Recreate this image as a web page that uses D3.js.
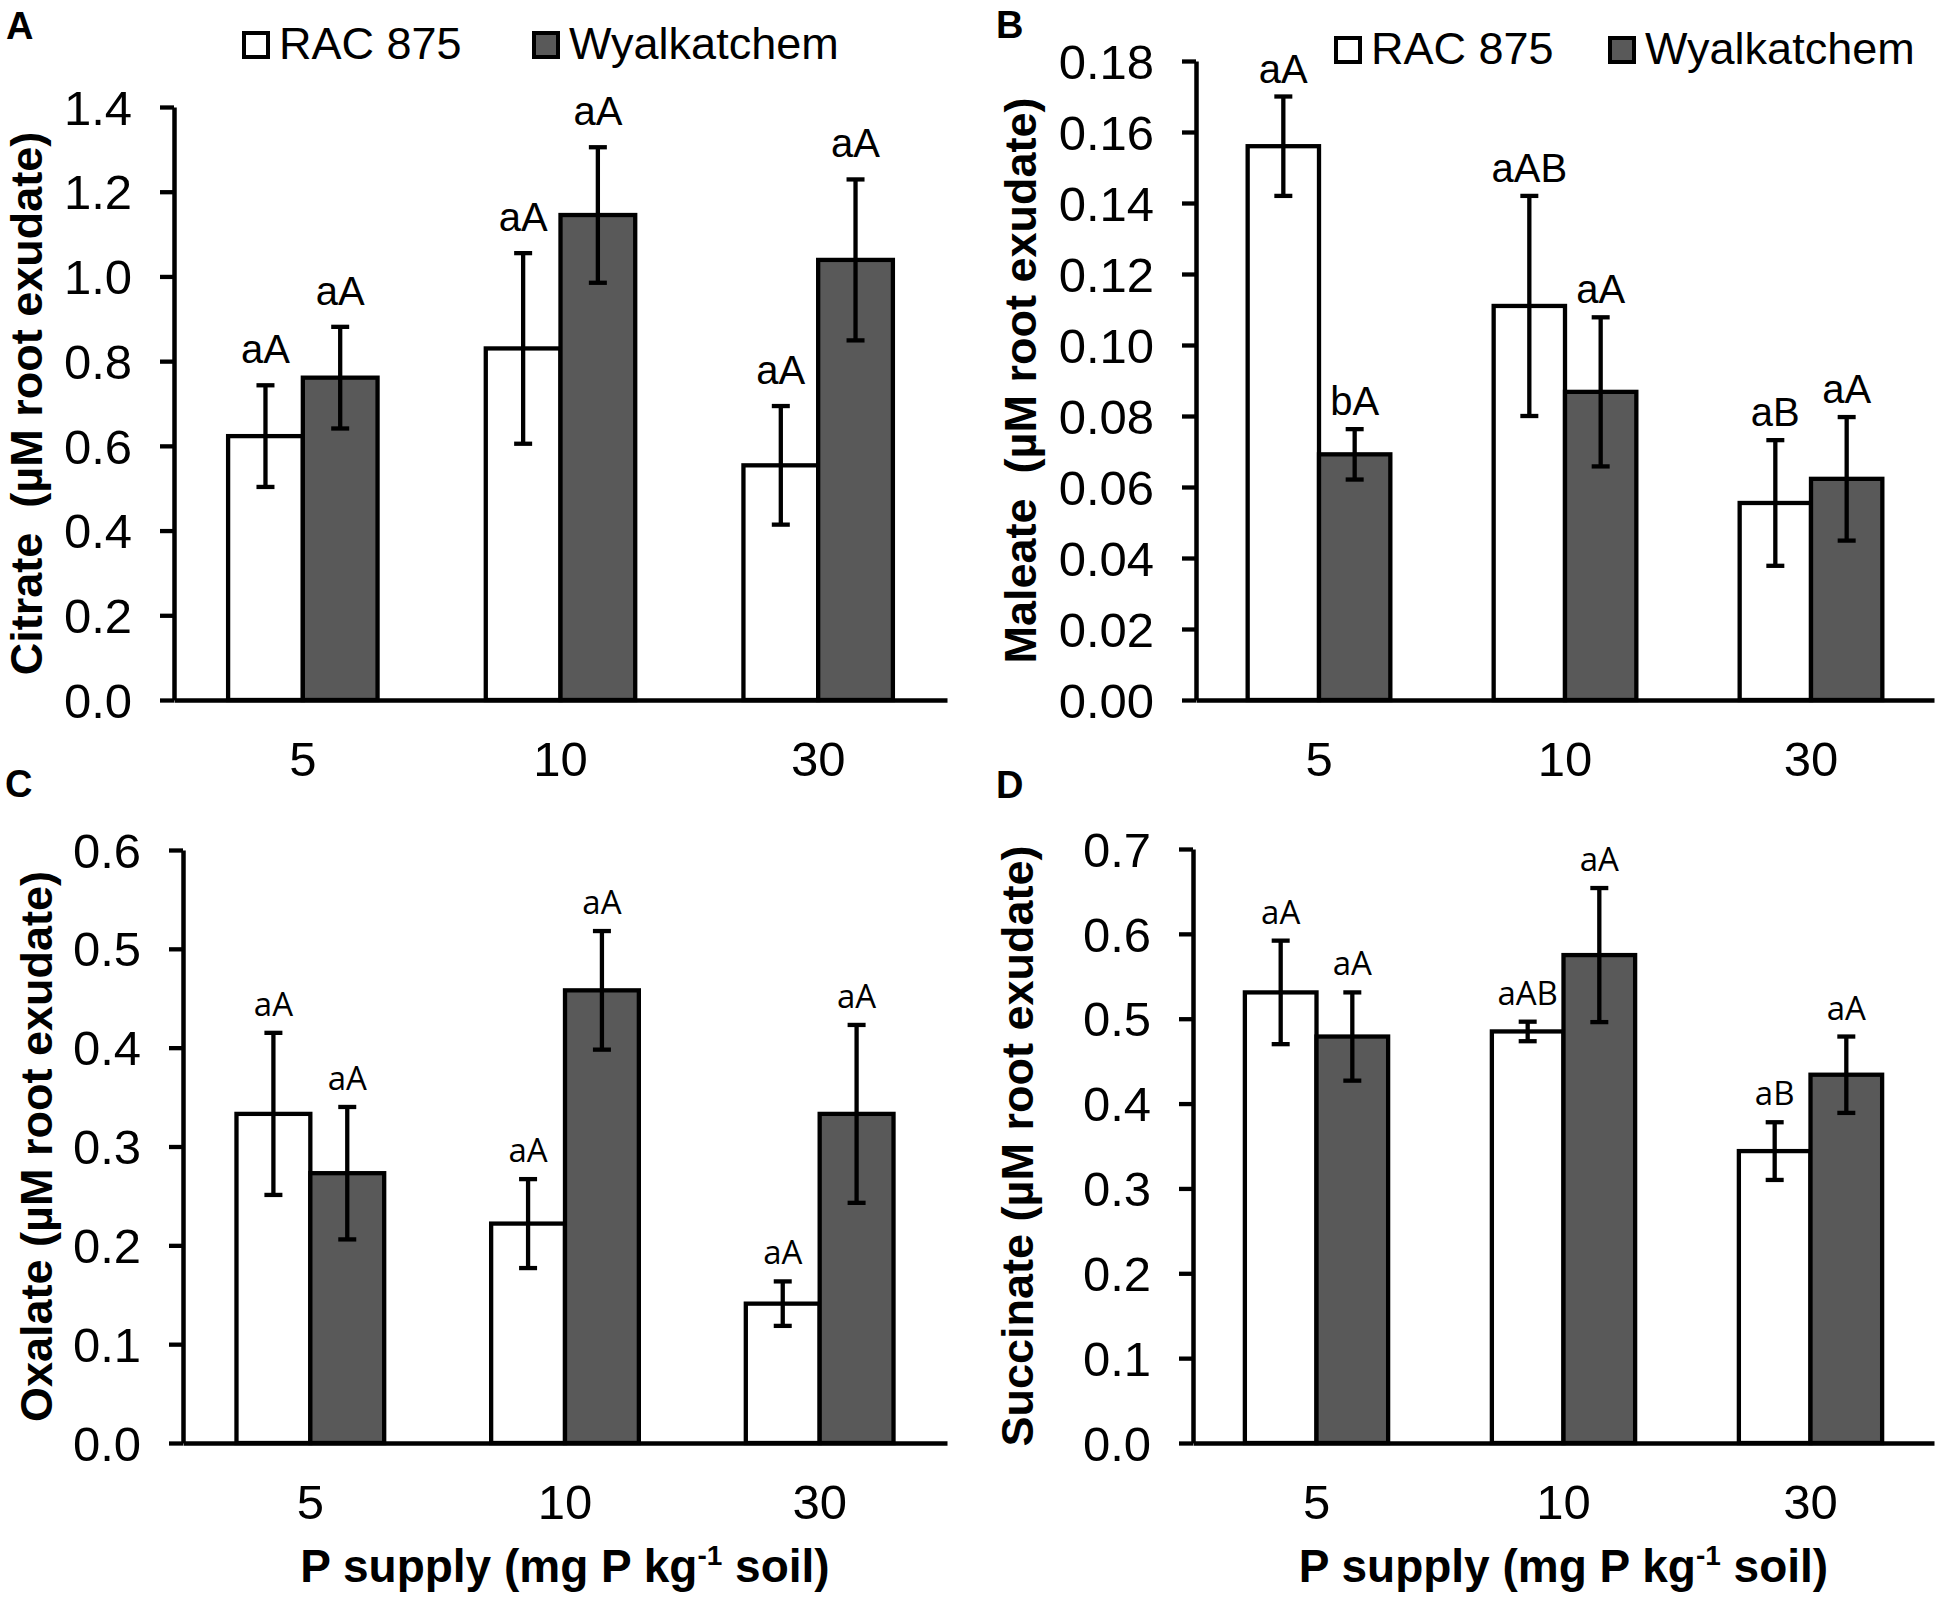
<!DOCTYPE html>
<html>
<head>
<meta charset="utf-8">
<script src="https://cdn.jsdelivr.net/npm/d3@7"></script>
<style>
  html, body { margin: 0; padding: 0; background: #fff; }
  svg { display: block; }
  text { font-family: "Liberation Sans", Arial, sans-serif; }
</style>
</head>
<body>
<svg id="chart" width="1944" height="1598"></svg>
<script>
// ---------- DATA ----------
const categories = ["5", "10", "30"];
const cultivars = ["RAC 875", "Wyalkatchem"];

const citrateRAC = [0.623, 0.830, 0.554];
const citrateRACErr = [0.120, 0.225, 0.140];
const citrateWya = [0.761, 1.145, 1.039];
const citrateWyaErr = [0.120, 0.160, 0.190];
const citrateLabelsRAC = ["aA", "aA", "aA"];
const citrateLabelsWya = ["aA", "aA", "aA"];
const citrateTicks = [0, 0.2, 0.4, 0.6, 0.8, 1.0, 1.2, 1.4];

const maleateRAC = [0.156, 0.111, 0.0555];
const maleateRACErr = [0.014, 0.031, 0.0177];
const maleateWya = [0.0692, 0.0868, 0.0623];
const maleateWyaErr = [0.0071, 0.021, 0.0174];
const maleateLabelsRAC = ["aA", "aAB", "aB"];
const maleateLabelsWya = ["bA", "aA", "aA"];
const maleateTicks = [0, 0.02, 0.04, 0.06, 0.08, 0.10, 0.12, 0.14, 0.16, 0.18];

const oxalateRAC = [0.333, 0.222, 0.141];
const oxalateRACErr = [0.082, 0.045, 0.0225];
const oxalateWya = [0.273, 0.458, 0.333];
const oxalateWyaErr = [0.067, 0.060, 0.090];
const oxalateLabelsRAC = ["aA", "aA", "aA"];
const oxalateLabelsWya = ["aA", "aA", "aA"];
const oxalateTicks = [0, 0.1, 0.2, 0.3, 0.4, 0.5, 0.6];

const succinateRAC = [0.531, 0.485, 0.344];
const succinateRACErr = [0.061, 0.0115, 0.034];
const succinateWya = [0.479, 0.575, 0.434];
const succinateWyaErr = [0.052, 0.079, 0.045];
const succinateLabelsRAC = ["aA", "aAB", "aB"];
const succinateLabelsWya = ["aA", "aA", "aA"];
const succinateTicks = [0, 0.1, 0.2, 0.3, 0.4, 0.5, 0.6, 0.7];

// ---------- LAYOUT ----------
const svg = d3.select("#chart");
const DARK = "#595959";
const LINE = 4.3;

const panels = [
  { letter: "A", title: "Citrate\u00a0\u00a0(µM root exudate)",
    rac: citrateRAC, racErr: citrateRACErr, wya: citrateWya, wyaErr: citrateWyaErr,
    labRac: citrateLabelsRAC, labWya: citrateLabelsWya, ticks: citrateTicks, fmt: ".1f",
    left: 174, right: 947, top: 107, bottom: 700,
    letterPos: [6, 39], titleX: 42, labelGap: 22, labelFont: "'Liberation Sans', Arial, sans-serif", labelSize: 40,
    xTitle: false, legend: { y: 44, items: [242, 532] } },
  { letter: "B", title: "Maleate\u00a0\u00a0(µM root exudate)",
    rac: maleateRAC, racErr: maleateRACErr, wya: maleateWya, wyaErr: maleateWyaErr,
    labRac: maleateLabelsRAC, labWya: maleateLabelsWya, ticks: maleateTicks, fmt: ".2f",
    left: 1196, right: 1934, top: 61, bottom: 700,
    letterPos: [996, 38], titleX: 1036, labelGap: 14, labelFont: "'Liberation Sans', Arial, sans-serif", labelSize: 40,
    xTitle: false, legend: { y: 49, items: [1334, 1608] } },
  { letter: "C", title: "Oxalate (µM root exudate)",
    rac: oxalateRAC, racErr: oxalateRACErr, wya: oxalateWya, wyaErr: oxalateWyaErr,
    labRac: oxalateLabelsRAC, labWya: oxalateLabelsWya, ticks: oxalateTicks, fmt: ".1f",
    left: 183, right: 947, top: 850, bottom: 1443,
    letterPos: [5, 797], titleX: 52, labelGap: 17, labelFont: "'Open Sans', sans-serif", labelSize: 33,
    xTitle: true, legend: null },
  { letter: "D", title: "Succinate (µM root exudate)",
    rac: succinateRAC, racErr: succinateRACErr, wya: succinateWya, wyaErr: succinateWyaErr,
    labRac: succinateLabelsRAC, labWya: succinateLabelsWya, ticks: succinateTicks, fmt: ".1f",
    left: 1193, right: 1934, top: 849, bottom: 1443,
    letterPos: [996, 798], titleX: 1033, labelGap: 17, labelFont: "'Open Sans', sans-serif", labelSize: 33,
    xTitle: true, legend: null }
];

panels.forEach(p => {
  const g = svg.append("g");
  const y = d3.scaleLinear().domain([0, d3.max(p.ticks)]).range([p.bottom, p.top]);
  const x0 = d3.scaleBand().domain(categories).range([p.left, p.right]).paddingInner(0.42).paddingOuter(0.21);
  const x1 = d3.scaleBand().domain(cultivars).range([0, x0.bandwidth()]).padding(0);

  const rows = [];
  categories.forEach((c, i) => {
    rows.push({ cat: c, cult: cultivars[0], v: p.rac[i], e: p.racErr[i], lab: p.labRac[i], fill: "#fff" });
    rows.push({ cat: c, cult: cultivars[1], v: p.wya[i], e: p.wyaErr[i], lab: p.labWya[i], fill: DARK });
  });

  // bars
  g.selectAll("rect.bar").data(rows).join("rect")
    .attr("class", "bar")
    .attr("x", d => x0(d.cat) + x1(d.cult))
    .attr("y", d => y(d.v))
    .attr("width", x1.bandwidth())
    .attr("height", d => y(0) - y(d.v))
    .attr("fill", d => d.fill)
    .attr("stroke", "#000")
    .attr("stroke-width", LINE);

  // error bars
  const cx = d => x0(d.cat) + x1(d.cult) + x1.bandwidth() / 2;
  const cap = 9;
  const eb = g.selectAll("g.err").data(rows).join("g").attr("class", "err")
    .attr("stroke", "#000").attr("stroke-width", LINE);
  eb.append("line").attr("x1", cx).attr("x2", cx).attr("y1", d => y(d.v - d.e)).attr("y2", d => y(d.v + d.e));
  eb.append("line").attr("x1", d => cx(d) - cap).attr("x2", d => cx(d) + cap).attr("y1", d => y(d.v + d.e)).attr("y2", d => y(d.v + d.e));
  eb.append("line").attr("x1", d => cx(d) - cap).attr("x2", d => cx(d) + cap).attr("y1", d => y(d.v - d.e)).attr("y2", d => y(d.v - d.e));

  // letters above bars
  g.selectAll("text.sig").data(rows).join("text")
    .attr("class", "sig")
    .attr("x", cx)
    .attr("y", d => y(d.v + d.e) - p.labelGap)
    .attr("text-anchor", "middle")
    .style("font-family", p.labelFont)
    .style("font-size", p.labelSize + "px")
    .text(d => d.lab);

  // y axis
  const yAxis = d3.axisLeft(y).tickValues(p.ticks).tickFormat(d3.format(p.fmt))
    .tickSize(14).tickSizeOuter(0).tickPadding(28);
  const ya = g.append("g").attr("transform", `translate(${p.left},0)`).call(yAxis);
  ya.select(".domain").attr("stroke", "#000").attr("stroke-width", 4.5);
  ya.selectAll(".tick line").attr("stroke", "#000").attr("stroke-width", 4.3);
  ya.selectAll(".tick text").attr("fill", "#000")
    .style("font-family", "'Liberation Sans', Arial, sans-serif").style("font-size", "49px")
    .attr("dy", "0.35em");

  // x axis (no ticks)
  const xAxis = d3.axisBottom(x0).tickSize(0).tickSizeOuter(0).tickPadding(41);
  const xa = g.append("g").attr("transform", `translate(0,${y(0)})`).call(xAxis);
  xa.select(".domain").attr("stroke", "#000").attr("stroke-width", 4.5);
  xa.selectAll(".tick text").attr("fill", "#000")
    .style("font-family", "'Liberation Sans', Arial, sans-serif").style("font-size", "49px");

  // y title
  g.append("text")
    .attr("transform", `translate(${p.titleX},${(p.top + p.bottom) / 2}) rotate(-90)`)
    .attr("text-anchor", "middle")
    .style("font-weight", "bold").style("font-size", "45px")
    .text(p.title);

  // panel letter
  g.append("text").attr("x", p.letterPos[0]).attr("y", p.letterPos[1])
    .style("font-weight", "bold").style("font-size", "38px").text(p.letter);

  // x title
  if (p.xTitle) {
    const t = g.append("text")
      .attr("x", (p.left + p.right) / 2).attr("y", p.bottom + 139)
      .attr("text-anchor", "middle")
      .style("font-weight", "bold").style("font-size", "46px");
    t.append("tspan").text("P supply (mg P kg");
    t.append("tspan").attr("dy", -17).style("font-size", "28px").text("-1");
    t.append("tspan").attr("dy", 17).text(" soil)");
  }

  // legend
  if (p.legend) {
    const fills = ["#fff", DARK];
    cultivars.forEach((c, i) => {
      const lx = p.legend.items[i];
      g.append("rect").attr("x", lx + 2).attr("y", p.legend.y - 11).attr("width", 24).attr("height", 24)
        .attr("fill", fills[i]).attr("stroke", "#000").attr("stroke-width", 4);
      g.append("text").attr("x", lx + 37).attr("y", p.legend.y + 15)
        .style("font-size", "45px").text(c);
    });
  }
});
</script>
</body>
</html>
